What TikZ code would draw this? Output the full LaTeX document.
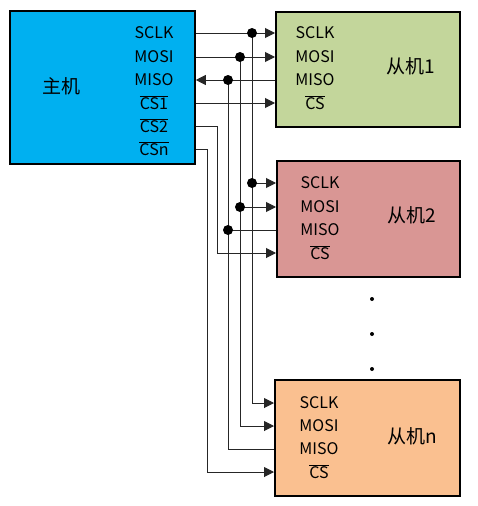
\documentclass[tikz,border=0pt]{standalone}
\usepackage{fontspec}
\setmainfont{Noto Sans CJK SC}[AutoFakeBold=1.5]
\usetikzlibrary{arrows.meta}
\definecolor{mcol}{HTML}{00B0F0}
\definecolor{sonecol}{HTML}{C3D69B}
\definecolor{stwocol}{HTML}{D99694}
\definecolor{sncol}{HTML}{FAC090}
\newcommand{\ovl}[1]{$\overline{\mbox{#1}}$}
\begin{document}
\begin{tikzpicture}[x=1pt,y=-1pt,
  box/.style={draw=black, line width=1.8pt, anchor=north west, inner sep=0pt},
  lbl/.style={font=\fontsize{16}{16}\selectfont, inner sep=0pt},
  big/.style={font=\fontsize{19}{19}\selectfont, inner sep=0pt},
  wire/.style={draw=black!85, line width=1pt},
  arr/.style={wire, -{Triangle[length=10pt,width=10pt]}},
  jdot/.style={fill=black}]
\useasboundingbox (0,0) rectangle (477,506);
% boxes
\node[box, fill=mcol, minimum width=185pt, minimum height=153pt] (m) at (9,10) {};
\node[box, fill=sonecol, minimum width=184pt, minimum height=115pt] (s1) at (275,11) {};
\node[box, fill=stwocol, minimum width=183pt, minimum height=116pt] (s2) at (276,160) {};
\node[box, fill=sncol, minimum width=185pt, minimum height=116pt] (sn) at (274,379) {};
% master labels
\node[big] (mname) at (61,86) {主机};
\node[lbl] (ma) at (154,33) {SCLK};
\node[lbl] (mb) at (154,57) {MOSI};
\node[lbl] (mc) at (154,80) {MISO};
\node[lbl] (md) at (154,103) {\ovl{CS1}};
\node[lbl] (me) at (154,126) {\ovl{CS2}};
\node[lbl] (mf) at (154,149) {\ovl{CSn}};
% slave 1
\node[big] (s1name) at (411,66) {从机1};
\node[lbl] (pa) at (315,33) {SCLK};
\node[lbl] (pb) at (315,57) {MOSI};
\node[lbl] (pc) at (315,80) {MISO};
\node[lbl] (pd) at (315,103) {\ovl{CS}};
% slave 2
\node[big] (s2name) at (412,215) {从机2};
\node[lbl] (qa) at (320,183) {SCLK};
\node[lbl] (qb) at (320,207) {MOSI};
\node[lbl] (qc) at (320,230) {MISO};
\node[lbl] (qd) at (320,253) {\ovl{CS}};
% slave n
\node[big] (snname) at (412,436) {从机n};
\node[lbl] (ra) at (319,403) {SCLK};
\node[lbl] (rb) at (319,426) {MOSI};
\node[lbl] (rc) at (319,449) {MISO};
\node[lbl] (rd) at (319,472) {\ovl{CS}};
% vertical dots
\fill (372,299) circle (2pt);
\fill (372,334) circle (2pt);
\fill (372,369) circle (2pt);
% bus coordinates
\coordinate (ja) at (252,33);
\coordinate (jb) at (240,57);
\coordinate (jc) at (228,80);
\coordinate (ka) at (252,183);
\coordinate (kb) at (240,207);
\coordinate (kc) at (228,230);
\coordinate (te) at (217,126);
\coordinate (tf) at (207,149);
% slave 1 wires
\draw[arr] (m.east |- ma) -- (s1.west |- pa);
\draw[arr] (m.east |- mb) -- (s1.west |- pb);
\draw[arr] (s1.west |- pc) -- (m.east |- mc);
\draw[arr] (m.east |- md) -- (s1.west |- pd);
% buses to slave n
\draw[arr] (ja) |- (sn.west |- ra);
\draw[arr] (jb) |- (sn.west |- rb);
\draw[wire] (jc) |- (sn.west |- rc);
% slave 2 taps
\draw[arr] (ka) -- (s2.west |- qa);
\draw[arr] (kb) -- (s2.west |- qb);
\draw[wire] (kc) -- (s2.west |- qc);
% chip selects
\draw[wire] (m.east |- me) -- (te);
\draw[arr] (te) |- (s2.west |- qd);
\draw[wire] (m.east |- mf) -- (tf);
\draw[arr] (tf) |- (sn.west |- rd);
% junction dots
\foreach \p in {ja,jb,jc,ka,kb,kc} \fill[jdot] (\p) circle (5pt);
\end{tikzpicture}
\end{document}
